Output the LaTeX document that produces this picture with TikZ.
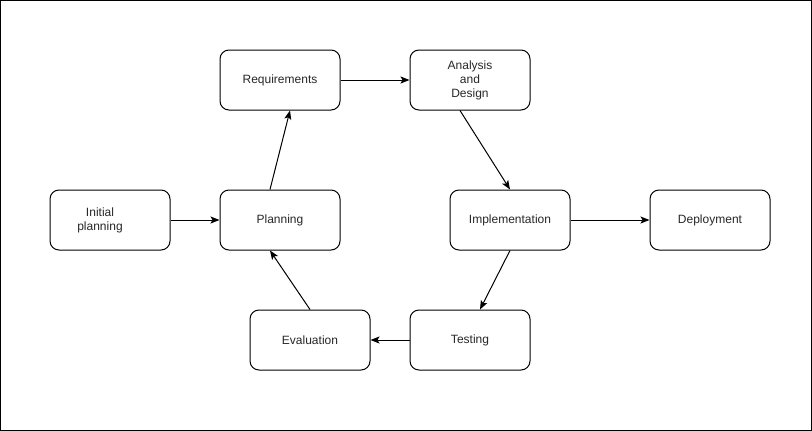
\documentclass[tikz,border=0pt]{standalone}
\usepackage{fontspec}
\setmainfont{Liberation Sans}
\usetikzlibrary{arrows.meta}
\begin{document}
\begin{tikzpicture}[x=1pt,y=-1pt,
  box/.style={draw=black,line width=1pt,rounded corners=9pt,minimum width=120pt,minimum height=60pt,inner sep=0pt,align=center,font=\fontsize{12}{14}\selectfont,text=black!85},
  txt/.style={align=center,font=\fontsize{12}{14}\selectfont,text=black!85,inner sep=0pt},
  conn/.style={draw=black,line width=1pt,-{Stealth[length=9pt,width=7pt,inset=2pt]}}]
\draw[line width=1pt] (0.5,0.5) rectangle (811.5,430.5);
\useasboundingbox (0,0) rectangle (812,431);
\node[box] (init) at (110,220) {};
\node[txt] (initt) at (100,220) {Initial\\planning};
\node[box] (plan) at (280,220) {Planning};
\node[box] (req) at (280,80) {Requirements};
\node[box] (ana) at (470,80) {Analysis\\and\\Design};
\node[box] (impl) at (510,220) {Implementation};
\node[box] (dep) at (710,220) {Deployment};
\node[box] (test) at (470,340) {Testing};
\node[box] (eval) at (310,340) {Evaluation};
\draw[conn] (init.east) -- (plan.west);
\draw[conn] ([xshift=-10pt]plan.north) -- ([xshift=10pt]req.south);
\draw[conn] (req.east) -- (ana.west);
\draw[conn] ([xshift=-10pt]ana.south) -- (impl.north);
\draw[conn] (impl.east) -- (dep.west);
\draw[conn] (impl.south) -- ([xshift=10pt]test.north);
\draw[conn] (test.west) -- (eval.east);
\draw[conn] (eval.north) -- ([xshift=-10pt]plan.south);
\end{tikzpicture}
\end{document}
